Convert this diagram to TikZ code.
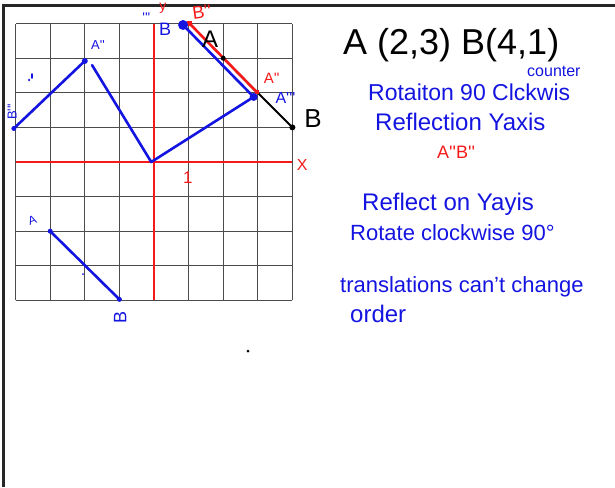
\documentclass[tikz,border=0pt]{standalone}
\usepackage{fontspec}
\setmainfont{Liberation Sans}
\usetikzlibrary{positioning}
\definecolor{penblue}{RGB}{20,20,225}
\definecolor{penred}{RGB}{245,25,25}
\newcommand{\pr}{\textquotesingle}
\tikzset{circ/.style = {fill, circle, inner sep = 0, minimum size = #1}}
\tikzset{sq/.style = {fill, rectangle, inner sep = 0, minimum size = 4.5}}
\tikzset{pen/.style = {line width = 2.6pt, line cap = round, line join = round}}
\tikzset{note/.style = {text = penblue, anchor = base west, inner sep = 0,
                        font = \fontsize{24}{28}\selectfont}}
\tikzset{lbl/.style = {inner sep = 0, font = \fontsize{#1}{#1}\selectfont}}

\begin{document}
\begin{tikzpicture}[x=1pt, y=-1pt]
  \useasboundingbox (0,0) rectangle (615,487);
  % page edge
  \coordinate (P1) at (3.2,487);
  \coordinate (P2) at (3.2,5.3);
  \coordinate (P3) at (615,5.3);
  \draw[line width=2.6pt, black!85] (P1) -- (P2) -- (P3);

  \begin{scope}[shift={(154,162)}, x=34.6pt, y=34.6pt]
    % grid and axes
    \draw[black!70, line width=0.9pt, step=1] (-4,-4) grid (4,4);
    \coordinate (xl) at (-4,0);
    \coordinate (xr) at (4,0);
    \coordinate (yb) at (0,-4);
    \coordinate (yt) at (0,4);
    \draw[penred, line width=1.8pt] (xl) -- (xr);
    \draw[penred, line width=1.8pt] (yb) -- (yt);
    \node[lbl=16, text=penred] (xname) at (4.28,-0.09) {X};
    \node[lbl=14, text=penred] (yname) at (0.26,4.45) {y};
    \node[lbl=17, text=penred] (one) at (0.98,-0.45) {1};

    % points
    \coordinate (A) at (2,3);
    \coordinate (B) at (4,1);
    \coordinate (A2) at (2.97,2.02);
    \coordinate (B2) at (1.03,4.0);
    \coordinate (C) at (0.84,3.96);
    \coordinate (D) at (2.88,1.88);
    \coordinate (O) at (-0.08,0);
    \coordinate (E) at (-2,2.92);
    \coordinate (E1) at (-1.79,2.80);
    \coordinate (F) at (-4.05,0.97);
    \coordinate (G) at (-3,-2);
    \coordinate (H) at (-1,-3.97);

    % black segment
    \draw[line width=1.8pt, line cap=round] (A) -- (B);
    % blue images
    \draw[pen, penblue] (C) -- (D) -- (O) -- (E1);
    \draw[pen, penblue] (E) -- (F);
    \draw[pen, penblue] (G) -- (H);
    % red image
    \draw[pen, penred] (B2) -- (A2);

    \node[circ=5, black] (a) at (A) {};
    \node[circ=6, black] (b) at (B) {};
    \node[sq, penred] (a2) at (A2) {};
    \node[sq, penred] (b2) at (B2) {};
    \node[circ=10, penblue] (c) at (C) {};
    \node[circ=8, penblue] (d) at (D) {};
    \node[circ=6, penblue] (e) at (E) {};
    \node[circ=5, penblue] (f) at (F) {};
    \node[circ=5, penblue] (g) at (G) {};
    \node[circ=5, penblue] (h) at (H) {};
    \node[circ=2, penblue] (m) at (-2.05,-3.24) {};

    % labels
    \node[lbl=24] (la) at (1.62,3.55) {A};
    \node[lbl=26] (lb) at (4.6,1.25) {B};
    \node[lbl=18, text=penred, rotate=8] (lb2) at (1.38,4.33) {B\pr\pr};
    \node[lbl=15, text=penred] (la2) at (3.4,2.42) {A\pr\pr};
    \node[lbl=16, text=penblue] (ld) at (3.8,1.86) {A\pr\pr\pr};
    \node[lbl=18, text=penblue] (lc) at (0.32,3.84) {B};
    \node[lbl=14, text=penblue] (lcp) at (-0.22,4.17) {\pr\pr\pr};
    \node[lbl=13, text=penblue] (le) at (-1.62,3.38) {A\pr\pr};
    \node[lbl=13, text=penblue, rotate=90] (lf) at (-4.1,1.45) {B\pr\pr\pr};
    \node[lbl=12, text=penblue, rotate=20] (lg) at (-3.52,-1.68) {A};
    \node[lbl=18, text=penblue, rotate=90] (lh) at (-0.98,-4.5) {B};
  \end{scope}

  % small marks
  \draw[penblue, line width=1.6pt, line cap=round] (32,74) -- (32,78);
  \node[circ=2.5, penblue] (t) at (29,80) {};
  \node[circ=3, black] (s) at (248,351) {};

  % notes
  \node[note, text=black, font=\fontsize{36}{40}\selectfont] (pts) at (343,55) {A (2,3) B(4,1)};
  \node[note, font=\fontsize{16}{18}\selectfont] (ctr) at (527,77) {counter};
  \node[note, font=\fontsize{23}{27}\selectfont] (rot) at (368,100) {Rotaiton 90 Clckwis};
  \node[note] (ref) at (375,130) {Reflection Yaxis};
  \node[note, text=penred, font=\fontsize{18}{20}\selectfont] (img) at (437,158) {A\pr\pr B\pr\pr};
  \node[note] (ref2) at (362,210) {Reflect on Yayis};
  \node[note, font=\fontsize{22}{26}\selectfont] (rot2) at (350,240) {Rotate clockwise 90°};
  \node[note, font=\fontsize{22}{26}\selectfont] (tr) at (340,292) {translations can't change};
  \node[note] (ord) at (350,322) {order};
\end{tikzpicture}
\end{document}
